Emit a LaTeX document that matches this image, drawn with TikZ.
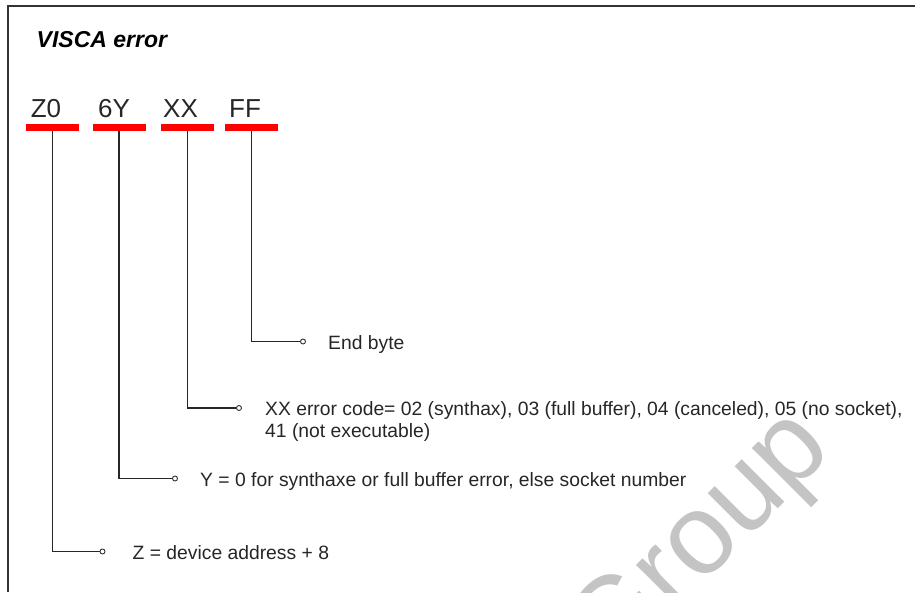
\documentclass[tikz,border=0pt]{standalone}
\usepackage{fontspec}
\setmainfont{Liberation Sans}
\usepackage{xcolor}
\usetikzlibrary{positioning}

\definecolor{framegray}{HTML}{333333}
\definecolor{markgray}{HTML}{C4C4C4}

\begin{document}
\begin{tikzpicture}[
        x=1pt, y=-1pt,
        field/.style={anchor=base, inner sep=0pt, font=\fontsize{26}{30}\selectfont, text=black!85},
        bar/.style={rectangle, fill=red, inner sep=0pt, minimum width=53pt, minimum height=6.5pt},
        dot/.style={circle, draw=black!80, fill=white, line width=0.9pt, inner sep=0pt, minimum size=5pt},
        desc/.style={anchor=base west, inner sep=0pt, font=\fontsize{19.3}{22}\selectfont, text=black!85, align=left},
        lead/.style={draw=black!85, line width=1.1pt}
    ]
        \useasboundingbox (0,0) rectangle (915,592);

        % Watermark
        \node [rotate=45, inner sep=0pt, text=markgray, font=\fontsize{114}{114}\selectfont] (mark) at (703,544) {Group};

        % Frame
        \draw [framegray, line width=1.3pt] (915,6) -- (8,6) -- (8,592);

        % Title
        \node [anchor=base west, inner sep=0pt, font=\fontsize{23}{26}\selectfont\bfseries\itshape] (title) at (36.5,47.5) {VISCA error};

        % Fields
        \node [field] (z0) at (46,117) {Z0};
        \node [field] (sy) at (114,117) {6Y};
        \node [field] (xx) at (180.5,117) {XX};
        \node [field] (ff) at (245,117) {FF};

        % Red bars
        \node [bar] (barz0) at (52.5,127.5) {};
        \node [bar] (barsy) at (119,127.5) {};
        \node [bar] (barxx) at (187.5,127.5) {};
        \node [bar] (barff) at (251.5,127.5) {};

        % End points
        \node [dot] (dotff) at (303,341.5) {};
        \node [dot] (dotxx) at (239,408) {};
        \node [dot] (dotsy) at (175,478.5) {};
        \node [dot] (dotz0) at (102.5,551.5) {};

        % Descriptions
        \node [desc] (endbyte) at (328,349) {End byte};
        \node [desc, anchor=west] (errcode) at (265,421.5) {XX error code= 02 (synthax), 03 (full buffer), 04 (canceled), 05 (no socket),\\41 (not executable)};
        \node [desc] (socket) at (200,486) {Y = 0 for synthaxe or full buffer error, else socket number};
        \node [desc] (address) at (132.5,559) {Z = device address + 8};

        % Leads
        \draw [lead] (barff.south) |- (dotff.west);
        \draw [lead] (barxx.south) |- (dotxx.west);
        \draw [lead] (barsy.south) |- (dotsy.west);
        \draw [lead] (barz0.south) |- (dotz0.west);

    \end{tikzpicture}
\end{document}
